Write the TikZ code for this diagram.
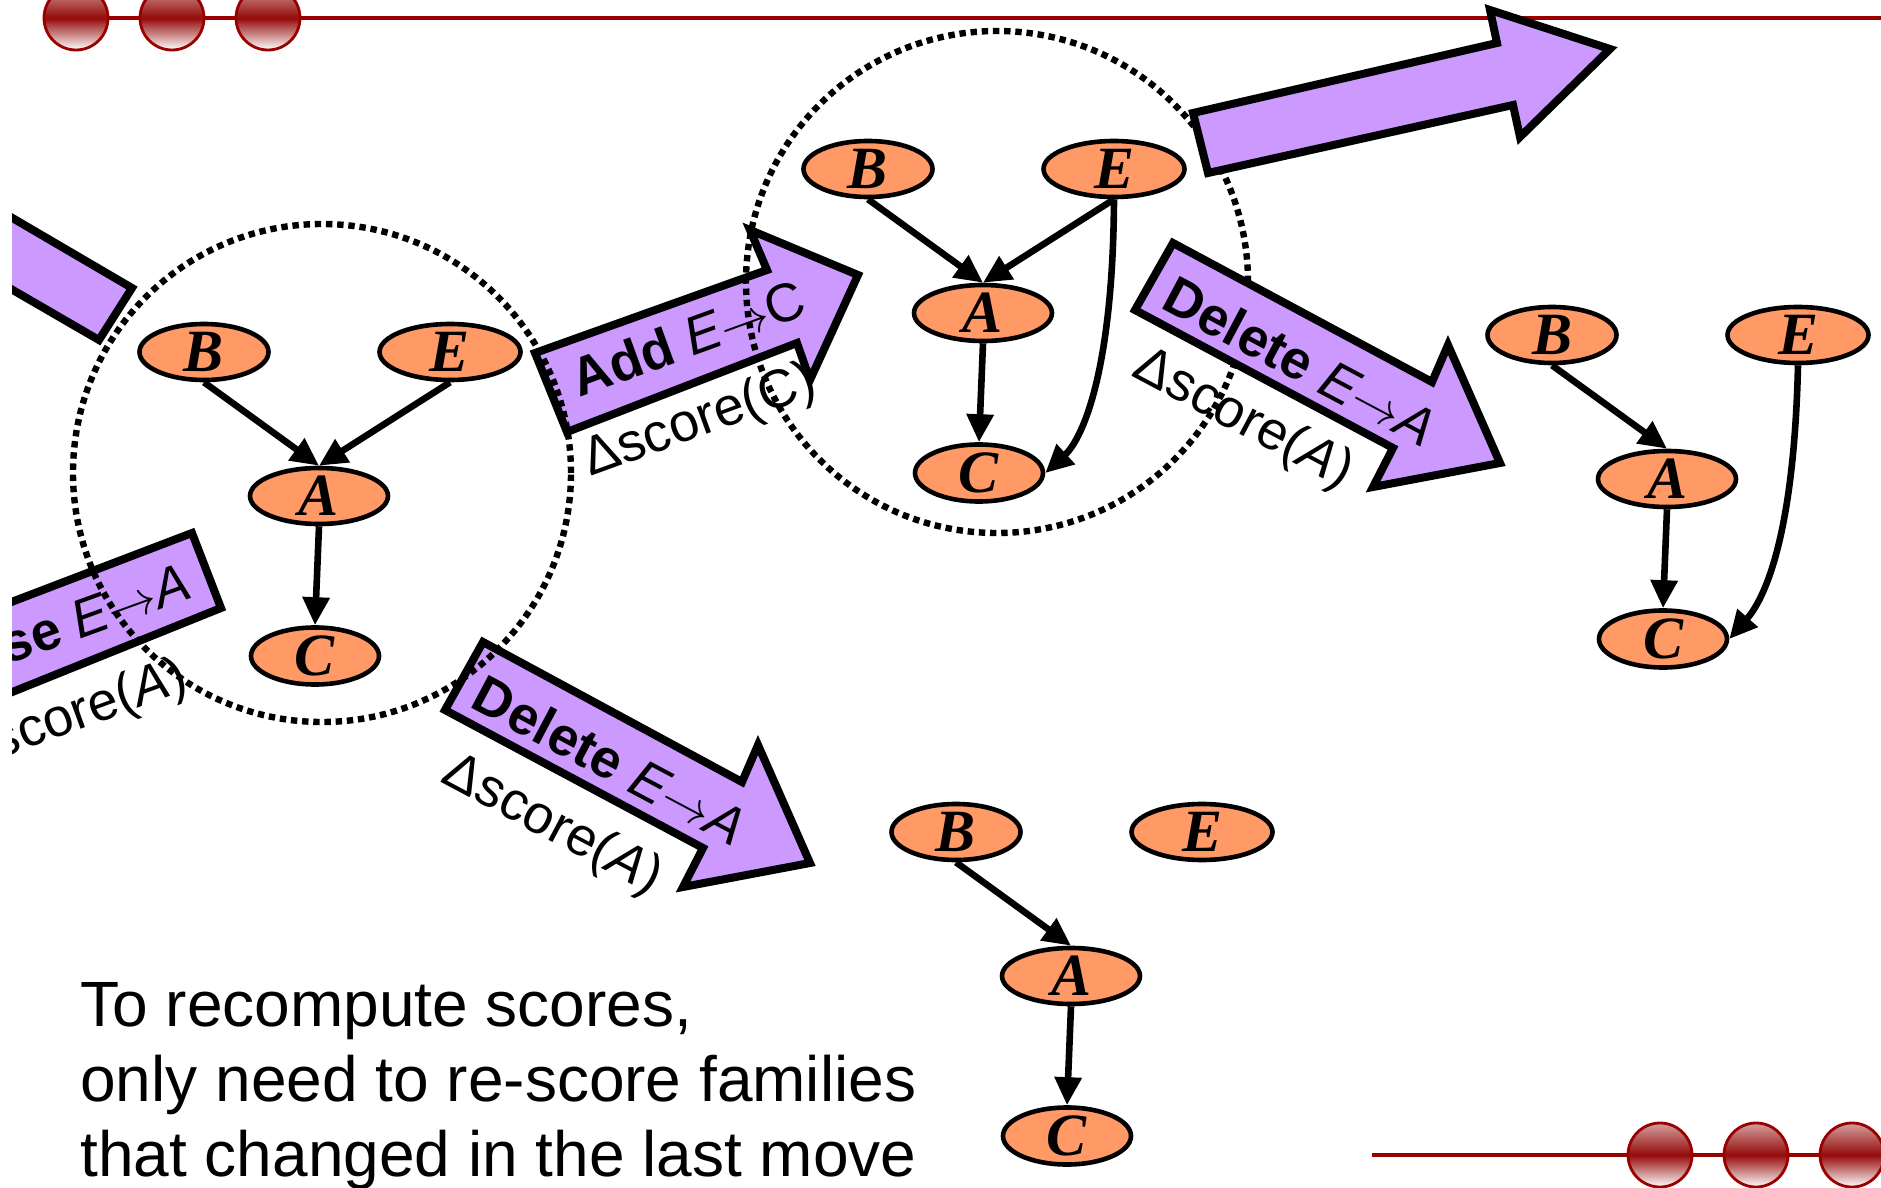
\documentclass[tikz,border=0pt]{standalone}
\usepackage{fontspec}
\setmainfont{Liberation Sans}
\newfontfamily\varfont{Liberation Serif}
\usetikzlibrary{arrows.meta,shapes.geometric}

\definecolor{varfill}{RGB}{255,153,102}
\definecolor{movefill}{RGB}{204,153,255}
\definecolor{railred}{RGB}{153,0,0}

\tikzset{
  var/.style={ellipse, draw=black, line width=2.3pt, fill=varfill,
    minimum height=28pt, inner sep=0pt,
    font=\varfont\bfseries\itshape\fontsize{30}{30}\selectfont},
  link/.style={line width=3.3pt, -{Triangle[length=14pt,width=13pt]}},
  move/.style={draw=black, line width=4pt, fill=movefill, line join=miter},
  movetext/.style={inner sep=0pt, font=\fontsize{27}{27}\selectfont},
  ring/.style={line width=3.2pt, dash pattern=on 3.2pt off 2.4pt},
  rail/.style={draw=railred, line width=1.7pt},
  bead/.style={draw=railred, line width=1.4pt,
    top color={rgb,255:red,210;green,160;blue,160},
    bottom color=white,
    middle color={rgb,255:red,150;green,10;blue,10}},
  note/.style={anchor=base west, inner sep=0pt,
    font=\fontsize{32}{37.5}\selectfont}
}

% four-variable network: B and E on top, A in the middle, C below
\newcommand{\netnodes}[3]{%
  \begin{scope}[shift={(#2,#3)}]
    \node[var, minimum width=64.5pt] (#1B) at (0,0) {B};
    \node[var, minimum width=70.5pt] (#1E) at (246,0) {E};
    \node[var, minimum width=69pt] (#1A) at (115,144) {A};
    \node[var, minimum width=64pt] (#1C) at (111,304) {C};
  \end{scope}}

\newcommand{\arrowto}{$\rightarrow$}

\begin{document}
\begin{tikzpicture}[x=0.5pt,y=-0.5pt]
\useasboundingbox (0,0) rectangle (1881,1188);
\fill[white] (0,0) rectangle (1881,1188);

% rails with beads
\draw[rail] (76,18) -- (1881,18);
\foreach \bx in {76,172,268} \path[bead] (\bx,18) circle[radius=16pt];
\draw[rail] (1372,1155) -- (1881,1155);
\foreach \bx in {1660,1756,1852} \path[bead] (\bx,1155) circle[radius=16pt];

% moves leaving the left network
\begin{scope}
  \clip (12,0) rectangle (1881,1188);
  \draw[move] (-20,199) -- (132,288) -- (99,340) -- (-20,271) -- cycle;
  \draw[move] (-20,614) -- (192,533) -- (221,608) -- (-20,705) -- cycle;
  \node[movetext, rotate=20, anchor=east] (revlbl) at (188,580)
    {\bfseries se \mdseries\itshape E\upshape\arrowto\itshape A};
  \node[movetext, rotate=20, anchor=east] (revscore) at (186,676)
    {score(\textit{A})};
\end{scope}

\draw[move] (535,353) -- (767,270) -- (750,230) -- (858,275) -- (810,380)
  -- (797,343) -- (567,432) -- cycle;
\node[movetext, rotate=20] (addlbl) at (688,338)
  {\bfseries Add \mdseries\itshape E\upshape\arrowto C};
\node[movetext, rotate=20] (addscore) at (700,422) {Δscore(C)};

\draw[move] (483,642) -- (742,782) -- (758,745) -- (810,863) -- (683,887)
  -- (703,848) -- (445,710) -- cycle;
\node[movetext, rotate=-28] (dellbl) at (610,760)
  {\bfseries Delete \mdseries\itshape E\upshape\arrowto\itshape A};
\node[movetext, rotate=-28] (delscore) at (552,826) {Δscore(\textit{A})};

\node[movetext, rotate=-28] (delscoreb) at (1243,420) {Δscore(\textit{A})};

% families that are touched by each move
\draw[ring] (322,473) circle[radius=124.5pt];
\draw[ring] (997,282) circle[radius=125.5pt];

\draw[move] (1173,243) -- (1432,382) -- (1448,345) -- (1500,463) -- (1373,487)
  -- (1393,448) -- (1135,310) -- cycle;
\node[movetext, rotate=-28] (dellblb) at (1300,361)
  {\bfseries Delete \mdseries\itshape E\upshape\arrowto\itshape A};

\draw[move] (1193,113) -- (1497,43) -- (1490,10) -- (1610,49) -- (1520,137)
  -- (1513,105) -- (1208,173) -- cycle;

% networks
\netnodes{p}{204}{352}
\draw[link] (pB.south) -- (pA.north);
\draw[link] (pE.south) -- (pA.north);
\draw[link] (pA.south) -- (pC.north);

\netnodes{q}{868}{169}
\draw[link] (qB.south) -- (qA.north);
\draw[link] (qE.south) -- (qA.north);
\draw[link] (qA.south) -- (qC.north);
\draw[link] (qE.south) .. controls +(-1,173) and +(37,-34) .. (qC.east);

\netnodes{r}{1552}{335}
\draw[link] (rB.south) -- (rA.north);
\draw[link] (rA.south) -- (rC.north);
\draw[link] (rE.south) .. controls +(-4,172) and +(35,-40) .. (rC.east);

\netnodes{s}{956}{832}
\draw[link] (sB.south) -- (sA.north);
\draw[link] (sA.south) -- (sC.north);

% remark
\node[note] (note1) at (80,1026) {To recompute scores,};
\node[note] (note2) at (80,1101) {only need to re-score families};
\node[note] (note3) at (80,1176) {that changed in the last move};
\end{tikzpicture}
\end{document}
